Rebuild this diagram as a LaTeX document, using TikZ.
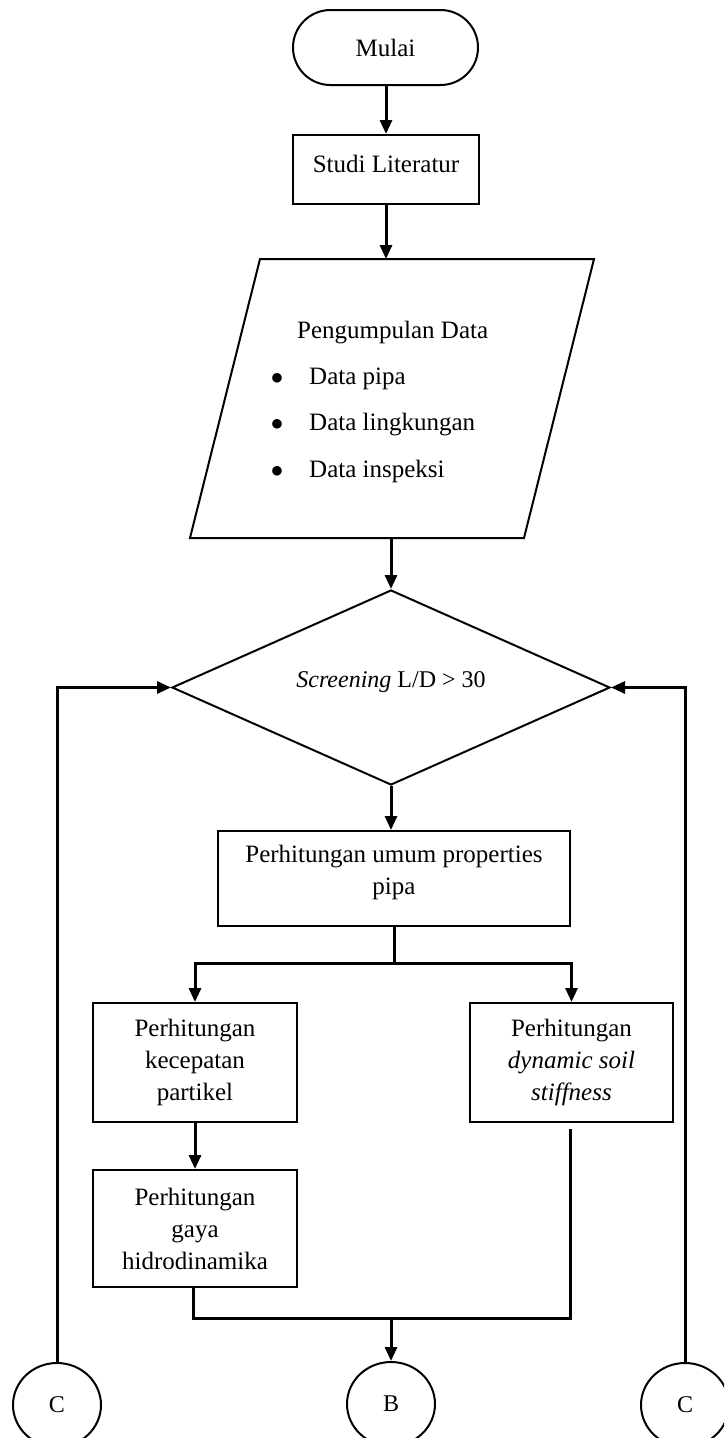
\documentclass[tikz,border=0pt]{standalone}
\usepackage{fontspec}
\setmainfont{Liberation Serif}
\usetikzlibrary{shapes.geometric,arrows.meta,calc}
\begin{document}
\begin{tikzpicture}[x=1pt,y=-1pt,
  txt/.style={font=\fontsize{25}{32}\selectfont, align=center, inner sep=0pt},
  shapeline/.style={draw=black, line width=2pt},
  box/.style={shapeline, rectangle, inner sep=0pt, txt},
  conn/.style={line width=3pt},
  arr/.style={conn, -{Triangle[length=14pt,width=12pt]}},
  conncircle/.style={shapeline, ellipse, minimum width=88pt, minimum height=84pt, inner sep=0pt, font=\fontsize{24}{28}\selectfont}
]
\useasboundingbox (0,0) rectangle (724,1438);
\clip (0,0) rectangle (724,1438);
\fill[white] (0,0) rectangle (724,1438);

% terminal
\node[box, rounded corners=37.5pt, minimum width=185pt, minimum height=75pt] (mulai) at (385.5,47.5) {Mulai};

% studi literatur
\node[box, minimum width=186pt, minimum height=69pt,
      label={[txt, yshift=6pt]center:Studi Literatur}] (studi) at (386,169.5) {};

% data parallelogram
\coordinate (pbl) at (190,538);
\coordinate (ptl) at (260,259);
\coordinate (ptr) at (594,259);
\coordinate (pbr) at (524,538);
\draw[shapeline, line join=miter] (pbl) -- (ptl) -- (ptr) -- (pbr) -- cycle;
\node[txt, anchor=base west, align=left] (datatext) at (270.6,338) {%
  \def\arraystretch{1.45}%
  \begin{tabular}[t]{@{}l@{\hspace{26pt}}l@{}}
  \multicolumn{2}{@{}l@{}}{\hspace{26.4pt}Pengumpulan Data}\\
  $\bullet$ & Data pipa\\
  $\bullet$ & Data lingkungan\\
  $\bullet$ & Data inspeksi
  \end{tabular}};

% decision
\node[shapeline, diamond, minimum width=438pt, minimum height=195pt, inner sep=0pt,
      label={[font=\fontsize{24}{28}\selectfont, inner sep=0pt, yshift=5pt]center:{\textit{Screening} L/D > 30}}] (dia) at (391,687.5) {};

% umum
\node[box, minimum width=352pt, minimum height=95pt,
      label={[txt, yshift=6pt]center:{Perhitungan umum properties\\pipa}}] (umum) at (394,878.5) {};

% left boxes
\node[box, minimum width=204pt, minimum height=119pt] (kec) at (195,1062.5) {Perhitungan\\kecepatan\\partikel};
\node[box, minimum width=204pt, minimum height=117pt] (hidro) at (195,1228.5) {Perhitungan\\gaya\\hidrodinamika};
% right box
\node[box, minimum width=203pt, minimum height=119pt] (dss) at (571.5,1062.5) {Perhitungan\\\textit{dynamic soil}\\\textit{stiffness}};

% connectors
\node[conncircle] (cl) at (57,1405) {C};
\node[conncircle] (b) at (391,1404) {B};
\node[conncircle] (cr) at (685,1405) {C};

\draw[arr] (studi.north |- mulai.south) -- (studi.north);
\draw[arr] (studi.south) -- (studi.south |- ptl);
\draw[arr] (dia.north |- pbl) -- (dia.north);
\draw[arr] (dia.south) -- (dia.south |- umum.north);

\coordinate (split) at ($(umum.south)+(0,36)$);
\draw[conn] (umum.south) -- (split);
\draw[arr] (kec.north |- split) -- (kec.north);
\draw[arr] (dss.north |- split) -- (dss.north);
\draw[conn] ($(kec.north |- split)+(-1.5,0)$) -- ($(dss.north |- split)+(1.5,0)$);

\draw[arr] (kec.south) -- (hidro.north);

\coordinate (hs) at ($(hidro.south)+(-2,0)$);
\coordinate (dssend) at ($(dss.south)+(-1.5,6)$);
\coordinate (merge) at (391,1318);
\draw[conn, line join=miter] (hs) -- (hs |- merge) -- (dssend |- merge) -- (dssend);
\draw[arr] (merge) -- (b.north);

\draw[arr, line join=miter] (cl.north) -- (cl.north |- dia.west) -- (dia.west);
\draw[arr, line join=miter] (cr.north) -- (cr.north |- dia.east) -- (dia.east);
\end{tikzpicture}
\end{document}
